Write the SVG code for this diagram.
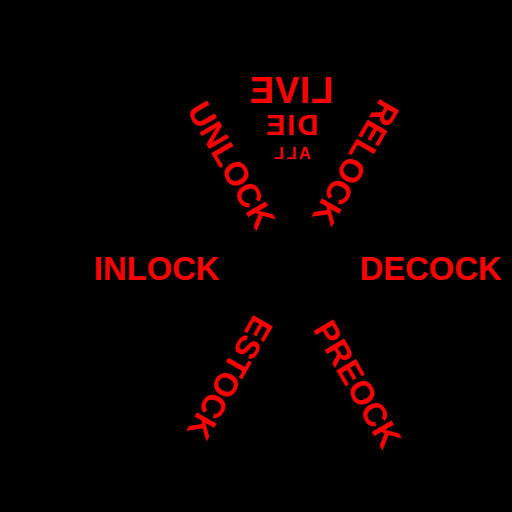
<svg xmlns="http://www.w3.org/2000/svg" width="512" height="512" viewBox="0 0 512 512">
  <style>
    .t { font-family: "Liberation Sans", Arial, sans-serif; font-weight: bold; fill: #ff0000; }
    .w { font-size: 32.8px; text-anchor: middle; }
    .m { text-anchor: middle; }
  </style>
  <rect x="0" y="0" width="512" height="512" fill="#000000"/>
  <g id="center-words" transform="translate(582,0) scale(-1,1)">
    <text id="live" class="t m" x="291" y="103.3" font-size="36.5" letter-spacing="0.8">LIVE</text>
    <text id="die" class="t m" x="291" y="135.3" font-size="29" letter-spacing="2">DIE</text>
    <text id="all" class="t m" x="291" y="158.7" font-size="16.5" letter-spacing="2.5">ALL</text>
  </g>
  <g id="unlock" transform="translate(231.5,165) rotate(60)">
    <text class="t w" x="0" y="11.7">UNLOCK</text>
  </g>
  <g id="relock" transform="translate(355.75,163) rotate(120)">
    <text class="t w" x="0" y="11.7">RELOCK</text>
  </g>
  <g id="inlock">
    <text class="t w" x="156.7" y="279.7">INLOCK</text>
  </g>
  <g id="decock">
    <text class="t w" x="430.7" y="279.7">DECOCK</text>
  </g>
  <g id="estock" transform="translate(230,378) rotate(120)">
    <text class="t w" x="0" y="11.7">ESTOCK</text>
  </g>
  <g id="preock" transform="translate(357.5,384) rotate(60)">
    <text class="t w" x="0" y="11.7">PREOCK</text>
  </g>
</svg>
